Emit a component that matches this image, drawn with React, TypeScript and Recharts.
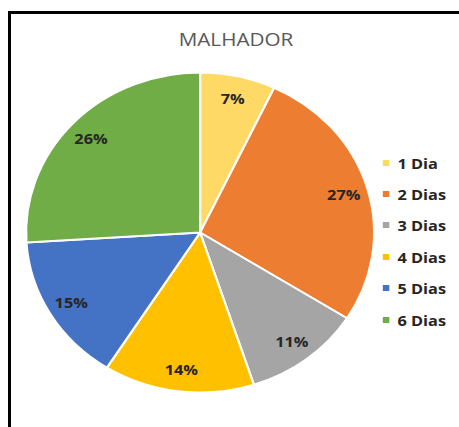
import React from 'react'
import { PieChart, Pie, Cell, Legend } from 'recharts'

const categories = ['1 Dia', '2 Dias', '3 Dias', '4 Dias', '5 Dias', '6 Dias']
const percentages = [7, 27, 11, 14, 15, 26]
const colors = ['#FFD966', '#ED7D31', '#A5A5A5', '#FFC000', '#4472C4', '#70AD47']
const title = 'MALHADOR'

const data = categories.map((name, i) => ({ name, value: percentages[i] }))

const RAD = Math.PI / 180
const FONT = '"Open Sans", "Liberation Sans", sans-serif'

// the source image is a bit wider than tall, so the whole chart gets stretched
const STRETCH = 1.0875

const renderLabel = (props: any) => {
  const { cx, cy, midAngle, outerRadius, value } = props
  const r = outerRadius * 0.86
  const x = cx + r * Math.cos(-midAngle * RAD)
  const y = cy + r * Math.sin(-midAngle * RAD)
  return (
    <text x={x} y={y} textAnchor="middle" dominantBaseline="central" fill="#262626" fontSize={15} fontWeight={700} fontFamily={FONT}>
      {`${value}%`}
    </text>
  )
}

const LegendList = () => (
  <div style={{ fontFamily: FONT }}>
    {categories.map((c, i) => (
      <div key={c} style={{ height: 31.4, display: 'flex', alignItems: 'center' }}>
        <span style={{ width: 5.5, height: 6, background: colors[i], display: 'inline-block', marginRight: 8 }} />
        <span style={{ fontSize: 15, fontWeight: 700, color: '#262626' }}>{c}</span>
      </div>
    ))}
  </div>
)

export default function App() {
  return (
    <div style={{ position: 'absolute', left: 0, top: 0, width: 459, height: 427, overflow: 'hidden', background: '#fff' }}>
      <div style={{ position: 'absolute', left: 8, top: 11, width: 470, height: 440, border: '3px solid #000' }} />
      <div style={{ position: 'absolute', left: 0, top: 0, width: 422, height: 427, transform: `scaleX(${STRETCH})`, transformOrigin: '0 0' }}>
        <div style={{ position: 'absolute', left: 0, width: 434, top: 26, textAlign: 'center', fontFamily: FONT, fontSize: 19, color: '#595959' }}>
          {title}
        </div>
        <PieChart width={422} height={427} margin={{ top: 0, right: 0, bottom: 0, left: 0 }}>
          <Pie
            data={data}
            dataKey="value"
            nameKey="name"
            cx={184}
            cy={232.5}
            outerRadius={160}
            startAngle={90}
            endAngle={-270}
            stroke="#fff"
            strokeWidth={2}
            label={renderLabel}
            labelLine={false}
            isAnimationActive={false}
          >
            {data.map((d, i) => (
              <Cell key={d.name} fill={colors[i]} />
            ))}
          </Pie>
          <Legend content={<LegendList />} wrapperStyle={{ left: 352, top: 147, width: 70 }} />
        </PieChart>
      </div>
    </div>
  )
}
